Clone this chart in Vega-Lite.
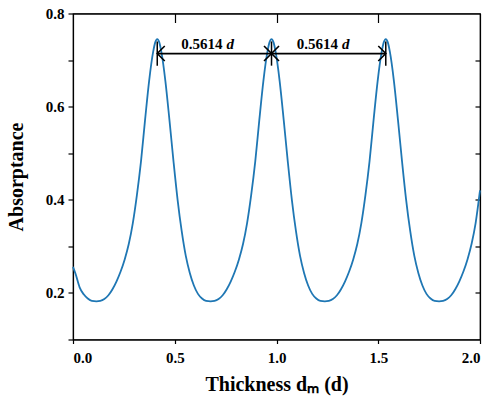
{
  "$schema": "https://vega.github.io/schema/vega-lite/v6.json",
  "width": 407,
  "height": 326,
  "autosize": {"type": "none"},
  "padding": {"left": 73, "top": 13.5, "right": 12, "bottom": 62.5},
  "background": "white",
  "config": {
    "view": {"stroke": "black", "strokeWidth": 1.2},
    "font": "Liberation Serif",
    "axis": {
      "labelFont": "Liberation Serif", "labelFontSize": 15, "labelFontWeight": "bold", "labelColor": "black",
      "titleFont": "Liberation Serif", "titleFontSize": 20, "titleFontWeight": "bold", "titleColor": "black",
      "domainColor": "black", "domainWidth": 1.2, "tickColor": "black", "tickWidth": 1.2, "grid": false
    }
  },
  "datasets": {
    "curve": [
      {"x":0,"y":0.256},{"x":0.0125,"y":0.241},{"x":0.0325,"y":0.212},{"x":0.0525,"y":0.197},{"x":0.0725,"y":0.188},{"x":0.0925,"y":0.183},{"x":0.115,"y":0.182},
      {"x":0.134,"y":0.183},{"x":0.154,"y":0.187},{"x":0.174,"y":0.195},{"x":0.194,"y":0.208},{"x":0.214,"y":0.225},{"x":0.234,"y":0.246},{"x":0.254,"y":0.272},{"x":0.274,"y":0.305},{"x":0.294,"y":0.35},{"x":0.314,"y":0.41},{"x":0.334,"y":0.482},{"x":0.354,"y":0.571},{"x":0.374,"y":0.655},{"x":0.394,"y":0.718},{"x":0.404,"y":0.738},{"x":0.414,"y":0.745},
      {"x":0.424,"y":0.738},{"x":0.434,"y":0.718},{"x":0.454,"y":0.655},{"x":0.474,"y":0.571},{"x":0.494,"y":0.482},{"x":0.514,"y":0.40},{"x":0.534,"y":0.333},{"x":0.554,"y":0.28},{"x":0.574,"y":0.243},{"x":0.594,"y":0.216},{"x":0.614,"y":0.198},{"x":0.634,"y":0.188},{"x":0.654,"y":0.183},{"x":0.676,"y":0.182},
      {"x":0.6955,"y":0.183},{"x":0.7155,"y":0.187},{"x":0.7355,"y":0.195},{"x":0.7555,"y":0.208},{"x":0.7755,"y":0.225},{"x":0.7955,"y":0.246},{"x":0.8155,"y":0.272},{"x":0.8355,"y":0.305},{"x":0.8555,"y":0.35},{"x":0.8755,"y":0.41},{"x":0.8955,"y":0.482},{"x":0.9155,"y":0.571},{"x":0.9355,"y":0.655},{"x":0.9555,"y":0.718},{"x":0.9655,"y":0.738},{"x":0.9755,"y":0.745},
      {"x":0.9855,"y":0.738},{"x":0.9955,"y":0.718},{"x":1.0155,"y":0.655},{"x":1.0355,"y":0.571},{"x":1.0555,"y":0.482},{"x":1.0755,"y":0.40},{"x":1.0955,"y":0.333},{"x":1.1155,"y":0.28},{"x":1.1355,"y":0.243},{"x":1.1555,"y":0.216},{"x":1.1755,"y":0.198},{"x":1.1955,"y":0.188},{"x":1.2155,"y":0.183},{"x":1.2375,"y":0.182},
      {"x":1.257,"y":0.183},{"x":1.277,"y":0.187},{"x":1.297,"y":0.195},{"x":1.317,"y":0.208},{"x":1.337,"y":0.225},{"x":1.357,"y":0.246},{"x":1.377,"y":0.272},{"x":1.397,"y":0.305},{"x":1.417,"y":0.35},{"x":1.437,"y":0.41},{"x":1.457,"y":0.482},{"x":1.477,"y":0.571},{"x":1.497,"y":0.655},{"x":1.517,"y":0.718},{"x":1.527,"y":0.738},{"x":1.537,"y":0.745},
      {"x":1.547,"y":0.738},{"x":1.557,"y":0.718},{"x":1.577,"y":0.655},{"x":1.597,"y":0.571},{"x":1.617,"y":0.482},{"x":1.637,"y":0.40},{"x":1.657,"y":0.333},{"x":1.677,"y":0.28},{"x":1.697,"y":0.243},{"x":1.717,"y":0.216},{"x":1.737,"y":0.198},{"x":1.757,"y":0.188},{"x":1.777,"y":0.183},{"x":1.799,"y":0.182},
      {"x":1.8185,"y":0.183},{"x":1.8385,"y":0.187},{"x":1.8585,"y":0.195},{"x":1.8785,"y":0.208},{"x":1.8985,"y":0.225},{"x":1.9185,"y":0.246},{"x":1.9385,"y":0.272},{"x":1.9585,"y":0.305},{"x":1.9785,"y":0.35},{"x":2.0,"y":0.42}
    ],
    "spans": [
      {"x": 0.414, "x2": 0.9755, "y": 0.714},
      {"x": 0.9755, "x2": 1.537, "y": 0.714}
    ],
    "bars": [
      {"x": 0.414, "y": 0.688, "y2": 0.74},
      {"x": 0.9755, "y": 0.688, "y2": 0.74},
      {"x": 1.537, "y": 0.688, "y2": 0.74}
    ],
    "heads": [
      {"x": 0.414, "y": 0.714, "dir": "left"},
      {"x": 0.9755, "y": 0.714, "dir": "right"},
      {"x": 0.9755, "y": 0.714, "dir": "left"},
      {"x": 1.537, "y": 0.714, "dir": "right"}
    ],
    "labels": [
      {"x": 0.735, "y": 0.723, "num": "0.5614", "var": "d"},
      {"x": 1.302, "y": 0.723, "num": "0.5614", "var": "d"}
    ]
  },
  "layer": [
    {
      "data": {"name": "curve"},
      "mark": {"type": "line", "color": "#1f77b4", "strokeWidth": 1.8, "interpolate": "monotone"},
      "encoding": {
        "x": {"field": "x", "type": "quantitative", "scale": {"domain": [0, 2], "nice": false, "zero": false},
              "axis": {"orient": "bottom", "values": [0, 0.5, 1, 1.5, 2], "format": ".1f", "tickSize": 4, "labelPadding": 7, "title": "Thickness dₘ (d)", "titlePadding": 9}},
        "y": {"field": "y", "type": "quantitative", "scale": {"domain": [0.1, 0.8], "nice": false, "zero": false},
              "axis": {"orient": "left", "values": [0.1, 0.2, 0.3, 0.4, 0.5, 0.6, 0.7, 0.8], "labelExpr": "round(datum.value*10) % 2 == 0 ? format(datum.value, '.1f') : ''", "tickSize": 5, "labelPadding": 4, "title": "Absorptance", "titlePadding": 19}}
      }
    },
    {
      "data": {"name": "curve"},
      "mark": {"type": "line", "opacity": 0},
      "encoding": {
        "x": {"field": "x", "type": "quantitative", "axis": {"orient": "top", "values": [0.5, 1, 1.5], "labels": false, "tickSize": -9, "title": null}},
        "y": {"field": "y", "type": "quantitative", "axis": {"orient": "right", "values": [0.2, 0.3, 0.4, 0.5, 0.6, 0.7], "labels": false, "tickSize": -5, "title": null}}
      }
    },
    {
      "data": {"name": "spans"},
      "mark": {"type": "rule", "color": "black", "strokeWidth": 1.8},
      "encoding": {
        "x": {"field": "x", "type": "quantitative", "axis": null},
        "x2": {"field": "x2"},
        "y": {"field": "y", "type": "quantitative", "axis": null}
      }
    },
    {
      "data": {"name": "bars"},
      "mark": {"type": "rule", "color": "black", "strokeWidth": 1.5},
      "encoding": {
        "x": {"field": "x", "type": "quantitative", "axis": null},
        "y": {"field": "y", "type": "quantitative", "axis": null},
        "y2": {"field": "y2"}
      }
    },
    {
      "data": {"name": "heads"},
      "mark": {"type": "point", "filled": false, "stroke": "black", "strokeWidth": 1.6, "size": 225, "opacity": 1},
      "encoding": {
        "x": {"field": "x", "type": "quantitative", "axis": null},
        "y": {"field": "y", "type": "quantitative", "axis": null},
        "shape": {"field": "dir", "type": "nominal", "legend": null,
                  "scale": {"domain": ["left", "right"], "range": ["M1,-1L0,0L1,1", "M-1,-1L0,0L-1,1"]}}
      }
    },
    {
      "data": {"name": "labels"},
      "mark": {"type": "text", "align": "right", "baseline": "alphabetic", "font": "Liberation Serif", "fontSize": 15, "fontWeight": "bold", "color": "black"},
      "encoding": {
        "x": {"field": "x", "type": "quantitative", "axis": null},
        "y": {"field": "y", "type": "quantitative", "axis": null},
        "text": {"field": "num"}
      }
    },
    {
      "data": {"name": "labels"},
      "mark": {"type": "text", "align": "left", "baseline": "alphabetic", "dx": 4, "font": "Liberation Serif", "fontSize": 15, "fontWeight": "bold", "fontStyle": "italic", "color": "black"},
      "encoding": {
        "x": {"field": "x", "type": "quantitative", "axis": null},
        "y": {"field": "y", "type": "quantitative", "axis": null},
        "text": {"field": "var"}
      }
    }
  ],
  "resolve": {"axis": {"x": "independent", "y": "independent"}}
}
